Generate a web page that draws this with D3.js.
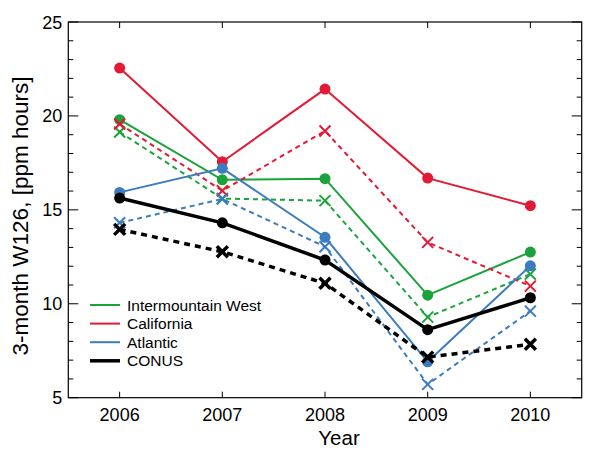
<!DOCTYPE html>
<html><head><meta charset="utf-8">
<script src="https://cdn.jsdelivr.net/npm/d3@7"></script>
<style>body{margin:0;background:#fff}svg text{font-family:"Liberation Sans",Arial,sans-serif}</style>
</head><body>
<svg id="c" width="611" height="450"></svg>
<script>
const years = [2006, 2007, 2008, 2009, 2010];
const yTicks = [5, 10, 15, 20, 25];
const imwSolid = [19.8, 16.6, 16.66, 10.46, 12.75];
const imwDash = [19.14, 15.6, 15.49, 9.29, 11.58];
const calSolid = [22.55, 17.56, 21.43, 16.69, 15.22];
const calDash = [19.57, 16.02, 19.2, 13.27, 10.94];
const atlSolid = [15.93, 17.21, 13.54, 6.91, 12.02];
const atlDash = [14.31, 15.58, 13.04, 5.71, 9.61];
const conusSolid = [15.63, 14.31, 12.33, 8.62, 10.32];
const conusDash = [13.96, 12.77, 11.09, 7.16, 7.84];
const seriesNames = ["Intermountain West", "California", "Atlantic", "CONUS"];
const seriesColors = ["#1aa33a", "#e31a35", "#3b7cbf", "#000000"];

const series = [
  {name: seriesNames[0], color: seriesColors[0], solid: imwSolid, dash: imwDash, w: 2},
  {name: seriesNames[1], color: seriesColors[1], solid: calSolid, dash: calDash, w: 2},
  {name: seriesNames[2], color: seriesColors[2], solid: atlSolid, dash: atlDash, w: 2},
  {name: seriesNames[3], color: seriesColors[3], solid: conusSolid, dash: conusDash, w: 3.5}
];

const svg = d3.select("#c");
const L = 68.3, R = 581.7, T = 22, B = 397.7;
const x = d3.scaleLinear().domain([2005.5, 2010.5]).range([L, R]);
const y = d3.scaleLinear().domain([5, 25]).range([B, T]);

svg.append("rect").attr("x", L).attr("y", T).attr("width", R - L).attr("height", B - T)
  .attr("fill", "none").attr("stroke", "#000").attr("stroke-width", 1.2);

const xMinor = d3.range(2055, 2106).map(d => d / 10).filter(d => Math.abs(d - Math.round(d)) > 1e-6);
const gx = svg.append("g");
xMinor.forEach(v => {
  gx.append("line").attr("x1", x(v)).attr("x2", x(v)).attr("y1", B).attr("y2", B - 3).attr("stroke", "#000");
  gx.append("line").attr("x1", x(v)).attr("x2", x(v)).attr("y1", T).attr("y2", T + 3).attr("stroke", "#000");
});
years.forEach(v => {
  gx.append("line").attr("x1", x(v)).attr("x2", x(v)).attr("y1", B).attr("y2", B - 6).attr("stroke", "#000");
  gx.append("line").attr("x1", x(v)).attr("x2", x(v)).attr("y1", T).attr("y2", T + 6).attr("stroke", "#000");
  gx.append("text").attr("x", x(v)).attr("y", B + 23).attr("text-anchor", "middle")
    .attr("font-size", 18).text(v);
});
const gy = svg.append("g");
d3.range(5, 26).forEach(v => {
  const major = v % 5 === 0;
  const len = major ? 10 : 5;
  gy.append("line").attr("x1", L).attr("x2", L + len).attr("y1", y(v)).attr("y2", y(v)).attr("stroke", "#000");
  gy.append("line").attr("x1", R).attr("x2", R - len).attr("y1", y(v)).attr("y2", y(v)).attr("stroke", "#000");
});
yTicks.forEach(v => {
  gy.append("text").attr("x", L - 6).attr("y", y(v) + 6.5).attr("text-anchor", "end")
    .attr("font-size", 18).text(v);
});

svg.append("text").attr("x", 339).attr("y", 445).attr("text-anchor", "middle")
  .attr("font-size", 20.5).text("Year");
svg.append("text").attr("transform", `translate(28,216) rotate(-90)`)
  .attr("text-anchor", "middle").attr("font-size", 22.5).text("3-month W126, [ppm hours]");

const line = d3.line().x((d, i) => x(years[i])).y(d => y(d));

series.forEach(s => {
  const g = svg.append("g");
  g.append("path").attr("d", line(s.dash)).attr("fill", "none").attr("stroke", s.color)
    .attr("stroke-width", s.w).attr("stroke-dasharray", s.w > 3 ? "6,5" : "5,4");
  g.append("path").attr("d", line(s.solid)).attr("fill", "none").attr("stroke", s.color)
    .attr("stroke-width", s.w);
  s.solid.forEach((v, i) => {
    g.append("circle").attr("cx", x(years[i])).attr("cy", y(v)).attr("r", 5.5).attr("fill", s.color);
  });
  s.dash.forEach((v, i) => {
    const cx = x(years[i]), cy = y(v), h = 5.5;
    g.append("path").attr("d", `M${cx - h},${cy - h}L${cx + h},${cy + h}M${cx - h},${cy + h}L${cx + h},${cy - h}`)
      .attr("stroke", s.color).attr("stroke-width", s.w > 3 ? 3.5 : 2).attr("fill", "none");
  });
});

const lg = svg.append("g");
series.forEach((s, i) => {
  const ly = 305 + i * 18.6;
  lg.append("line").attr("x1", 90).attr("x2", 120).attr("y1", ly).attr("y2", ly)
    .attr("stroke", s.color).attr("stroke-width", s.w);
  lg.append("text").attr("x", 127).attr("y", ly + 5.5).attr("font-size", 15.5).text(s.name);
});
</script>
</body></html>
